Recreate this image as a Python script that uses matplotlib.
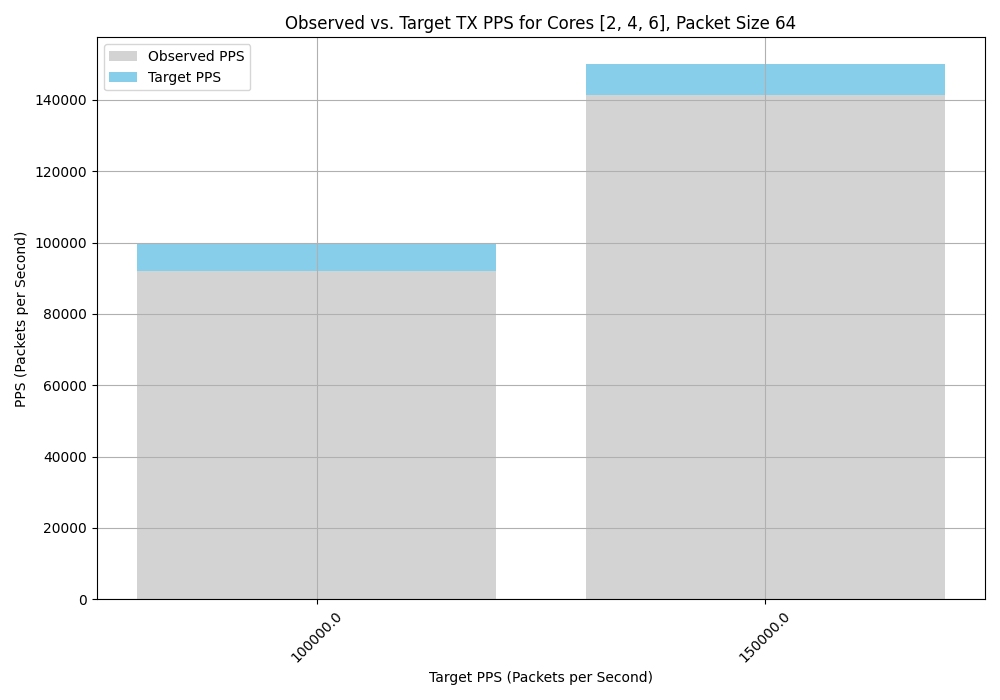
import numpy as np
from matplotlib import pyplot as plt

target_pps = [100000.0, 150000.0]
observed_pps = [92000, 141300]

x = np.arange(len(target_pps))
labels = [str(t) for t in target_pps]
gap = np.array(target_pps) - np.array(observed_pps)

plt.figure(figsize=(10, 7))
plt.bar(x, observed_pps, color='lightgray', label='Observed PPS')
plt.bar(x, gap, bottom=observed_pps, color='skyblue', label='Target PPS')
plt.xticks(x, labels, rotation=45)
plt.xlabel('Target PPS (Packets per Second)')
plt.ylabel('PPS (Packets per Second)')
plt.title('Observed vs. Target TX PPS for Cores [2, 4, 6], Packet Size 64')
plt.legend(loc='upper left')
plt.grid(True)
plt.tight_layout()
plt.savefig('out.png', dpi=100)
